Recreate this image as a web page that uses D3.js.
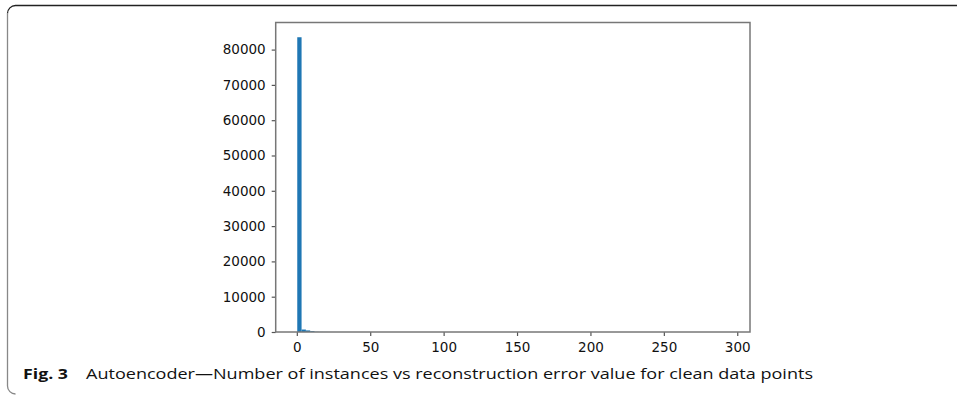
<!DOCTYPE html>
<html>
<head>
<meta charset="utf-8">
<script src="https://cdn.jsdelivr.net/npm/d3@7"></script>
<style>
  body { margin: 0; background: #fff; }
  svg { display: block; }
</style>
</head>
<body>
<svg id="chart"></svg>
<script>
// histogram of reconstruction error (100 bins)
const errMin = 0.3
const errMax = 294
const binCounts = [
  83500, 700, 450, 250, 60, 30, 20, 12, 8, 6,
  5, 4, 3, 3, 2, 2, 2, 1, 1, 1,
  1, 1, 0, 1, 0, 0, 1, 0, 0, 0,
  0, 0, 0, 0, 0, 0, 0, 0, 0, 0,
  0, 0, 0, 0, 0, 0, 0, 0, 0, 0,
  0, 0, 0, 0, 0, 0, 0, 0, 0, 0,
  0, 0, 0, 0, 0, 0, 0, 0, 0, 0,
  0, 0, 0, 0, 0, 0, 0, 0, 0, 0,
  0, 0, 0, 0, 0, 0, 0, 0, 0, 0,
  0, 0, 0, 0, 0, 0, 0, 0, 0, 1
]
const xTicks = [0, 50, 100, 150, 200, 250, 300]
const yTicks = [0, 10000, 20000, 30000, 40000, 50000, 60000, 70000, 80000]
const captionBold = 'Fig. 3'
const captionText = 'Autoencoder\u2014Number of instances vs reconstruction error value for clean data points'

const width = 957
const height = 395
const margin = { top: 22.5, right: 207, bottom: 63, left: 275.7 }

const svg = d3.select('#chart')
  .attr('width', width)
  .attr('height', height)

// rounded frame (top + left only)
svg.append('path')
  .attr('d', `M ${width} 5.5 H 15.5 A 8 8 0 0 0 7.5 13.5`)
  .attr('fill', 'none')
  .attr('stroke', '#222')
  .attr('stroke-width', 1.3)
svg.append('path')
  .attr('d', `M 7.5 13.5 V 386 A 8 8 0 0 0 15.5 394`)
  .attr('fill', 'none')
  .attr('stroke', '#888')
  .attr('stroke-width', 1.3)

const binW = (errMax - errMin) / binCounts.length
const bins = binCounts.map((c, i) => ({ x0: errMin + i * binW, x1: errMin + (i + 1) * binW, count: c }))

const pad = 0.05 * (errMax - errMin)
const x = d3.scaleLinear()
  .domain([errMin - pad, errMax + pad])
  .range([margin.left, width - margin.right])

const y = d3.scaleLinear()
  .domain([0, d3.max(binCounts) * 1.05])
  .range([height - margin.bottom, margin.top])

// bars
svg.append('g')
  .selectAll('rect')
  .data(bins.filter(d => d.count > 0))
  .join('rect')
  .attr('x', d => x(d.x0))
  .attr('width', d => x(d.x1) - x(d.x0))
  .attr('y', d => y(d.count))
  .attr('height', d => y(0) - y(d.count))
  .attr('fill', '#1f77b4')

const fontFam = '"DejaVu Sans", sans-serif'

const xAxis = svg.append('g')
  .attr('transform', `translate(0,${height - margin.bottom})`)
  .call(d3.axisBottom(x).tickValues(xTicks).tickSize(4).tickPadding(6).tickFormat(d3.format('d')))
const yAxis = svg.append('g')
  .attr('transform', `translate(${margin.left},0)`)
  .call(d3.axisLeft(y).tickValues(yTicks).tickSize(4).tickPadding(6).tickFormat(d3.format('d')))

;[xAxis, yAxis].forEach(a => {
  a.select('.domain').remove()
  a.selectAll('.tick line').attr('stroke', '#555').attr('stroke-width', 1.2)
  a.selectAll('.tick text')
    .attr('fill', '#111')
    .style('font-family', fontFam)
    .style('font-size', '13.5px')
})

// spines
svg.append('rect')
  .attr('x', margin.left)
  .attr('y', margin.top)
  .attr('width', width - margin.right - margin.left)
  .attr('height', height - margin.bottom - margin.top)
  .attr('fill', 'none')
  .attr('stroke', '#777')
  .attr('stroke-width', 1.5)

// caption
const cap = svg.append('text')
  .attr('x', 23)
  .attr('y', 379)
  .style('font-family', '"Open Sans", sans-serif')
  .style('font-size', '15px')
  .attr('fill', '#111')
cap.append('tspan')
  .attr('font-weight', 'bold')
  .attr('textLength', 45)
  .attr('lengthAdjust', 'spacingAndGlyphs')
  .text(captionBold)
cap.append('tspan')
  .attr('x', 86)
  .attr('textLength', 727)
  .attr('lengthAdjust', 'spacingAndGlyphs')
  .text(captionText)
</script>
</body>
</html>
